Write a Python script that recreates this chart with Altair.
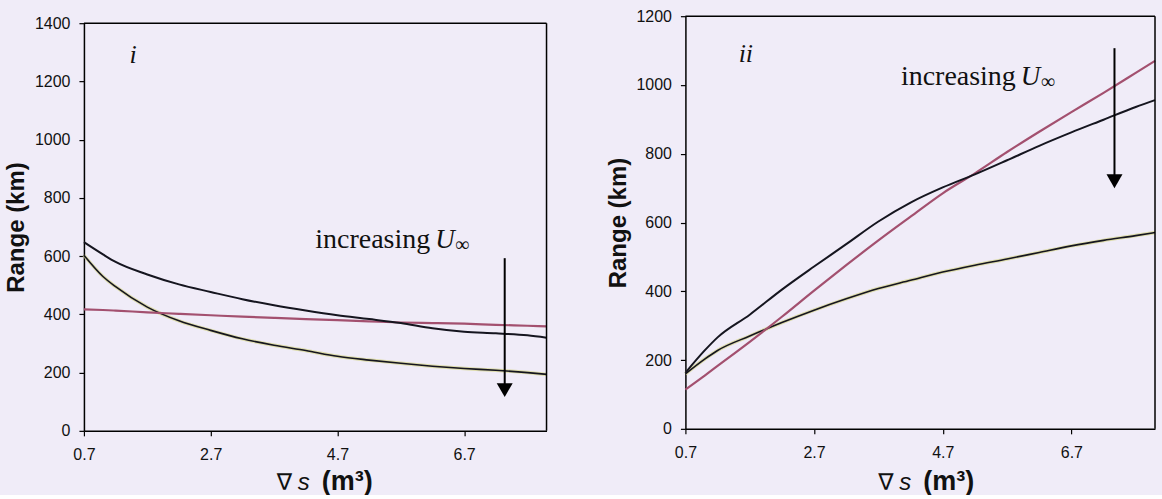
import altair as alt
import pandas as pd

# ---- data ----
x_vals = [0.7, 1.0, 1.2, 1.7, 2.2, 2.7, 3.2, 3.7, 4.2, 4.7, 5.2, 5.7, 6.2, 6.7, 7.2, 7.7, 8.0]

i_upper = [648, 606, 580, 537, 503, 477, 452, 431, 413, 397, 384, 370, 352, 340, 335, 328, 320]
i_lower = [603, 530, 495, 425, 378, 345, 316, 294, 276, 256, 243, 232, 222, 214, 208, 200, 194]
i_pink = [417, 415, 413, 407, 402, 397, 392, 388, 384, 380, 376, 372, 370, 368, 364, 361, 359]

ii_upper = [163, 228, 266, 332, 405, 472, 537, 603, 658, 702, 740, 781, 823, 862, 899, 936, 956]
ii_lower = [160, 203, 228, 270, 309, 345, 378, 408, 432, 456, 476, 494, 513, 532, 548, 562, 571]
ii_pink = [114, 155, 183, 253, 326, 402, 476, 548, 617, 685, 743, 805, 864, 921, 977, 1035, 1070]

x_ticks = [0.7, 2.7, 4.7, 6.7]
x_domain = [0.7, 8.0]

# annotation anchors (data units)
i_arrow = {"x": 7.34, "top": 593, "head": 140}
ii_arrow = {"x": 7.37, "top": 1107, "head": 720}
i_text = {"x": 4.35, "y": 627}
ii_text = {"x": 4.05, "y": 1000}
i_label = {"x": 1.475, "y": 1265, "t": "i"}
ii_label = {"x": 1.64, "y": 1066, "t": "ii"}

BLACK = "#15151f"
PINK = "#a3506f"
GLOW = "#d6d68c"


def make_panel(upper, lower, pink, ymax, width, height, top_px, arrow, txt, lab):
    n = len(x_vals)
    df = pd.DataFrame({
        "x": x_vals * 3,
        "y": upper + lower + pink,
        "s": ["upper"] * n + ["lower"] * n + ["pink"] * n,
    })
    xs = alt.Scale(domain=x_domain, nice=False, zero=False)
    ys = alt.Scale(domain=[0, ymax], nice=False, range=[height, top_px])
    X = alt.X("x:Q", scale=xs,
              axis=alt.Axis(values=x_ticks, format=".1f", title=None, labelFlush=False,
                            labelPadding=11, tickSize=5))
    Y = alt.Y("y:Q", scale=ys,
              axis=alt.Axis(values=list(range(0, ymax + 1, 200)), format="d",
                            title="Range (km)", titlePadding=5, labelPadding=9, tickSize=5,
                            minExtent=50, maxExtent=50))
    Xp = alt.X("x:Q", scale=xs)
    Yp = alt.Y("y:Q", scale=ys)
    base = alt.Chart(df)

    glow = base.transform_filter(alt.datum.s == "lower").mark_line(
        color=GLOW, strokeWidth=3.5, opacity=0.7, interpolate="monotone").encode(x=X, y=Y)
    lower_l = base.transform_filter(alt.datum.s == "lower").mark_line(
        color=BLACK, strokeWidth=1.6, interpolate="monotone").encode(x=Xp, y=Yp)
    pink_l = base.transform_filter(alt.datum.s == "pink").mark_line(
        color=PINK, strokeWidth=2.2, interpolate="monotone").encode(x=Xp, y=Yp)
    upper_l = base.transform_filter(alt.datum.s == "upper").mark_line(
        color=BLACK, strokeWidth=2, interpolate="monotone").encode(x=Xp, y=Yp)

    # frame: top and right borders
    fdf = pd.DataFrame({"k": [0]})
    top_rule = alt.Chart(fdf).mark_rule(color="black", strokeWidth=1.5).encode(
        x=alt.value(0), x2=alt.value(width), y=alt.value(top_px))
    right_rule = alt.Chart(fdf).mark_rule(color="black", strokeWidth=1.5).encode(
        x=alt.value(width), y=alt.value(top_px), y2=alt.value(height))

    adf = pd.DataFrame({"x": [arrow["x"]], "top": [arrow["top"]], "head": [arrow["head"]]})
    rule = alt.Chart(adf).mark_rule(color="black", strokeWidth=2).encode(
        x=alt.X("x:Q", scale=xs), y=alt.Y("top:Q", scale=ys), y2="head:Q")
    head = alt.Chart(adf).mark_point(shape="triangle-down", filled=True, size=256,
                                     color="black", opacity=1).encode(
        x=alt.X("x:Q", scale=xs), y=alt.Y("head:Q", scale=ys))

    tdf = pd.DataFrame({"x": [txt["x"]], "y": [txt["y"]]})
    t1 = alt.Chart(tdf).mark_text(text="increasing", align="left", baseline="alphabetic",
                                  font="Liberation Serif", fontSize=28, color="#111").encode(
        x=alt.X("x:Q", scale=xs), y=alt.Y("y:Q", scale=ys))
    t2 = alt.Chart(tdf).mark_text(text="U", align="left", baseline="alphabetic", dx=120,
                                  font="Liberation Serif", fontStyle="italic", fontSize=27,
                                  color="#111").encode(
        x=alt.X("x:Q", scale=xs), y=alt.Y("y:Q", scale=ys))
    t3 = alt.Chart(tdf).mark_text(text="\u221e", align="left", baseline="alphabetic", dx=140, dy=3,
                                  font="Liberation Serif", fontSize=20, color="#111").encode(
        x=alt.X("x:Q", scale=xs), y=alt.Y("y:Q", scale=ys))

    ldf = pd.DataFrame({"x": [lab["x"]], "y": [lab["y"]], "t": [lab["t"]]})
    lab_t = alt.Chart(ldf).mark_text(align="center", baseline="alphabetic",
                                     font="Liberation Serif", fontStyle="italic",
                                     fontSize=26, color="#111").encode(
        x=alt.X("x:Q", scale=xs), y=alt.Y("y:Q", scale=ys), text="t:N")

    # x-axis title pieces: italic nabla-s and bold (m^3)
    ty = 474
    xt1 = alt.Chart(fdf).mark_text(text="\u2207", align="left", baseline="alphabetic",
                                   font="DejaVu Sans", fontStyle="italic", fontSize=23,
                                   color="#111").encode(x=alt.value(193), y=alt.value(ty))
    xt2 = alt.Chart(fdf).mark_text(text="s", align="left", baseline="alphabetic",
                                   font="Liberation Sans", fontStyle="italic", fontSize=24,
                                   color="#111").encode(x=alt.value(214), y=alt.value(ty))
    xt3 = alt.Chart(fdf).mark_text(text="(m\u00b3)", align="left", baseline="alphabetic",
                                   font="Liberation Sans", fontWeight="bold", fontSize=27,
                                   color="#111").encode(x=alt.value(238), y=alt.value(ty))

    return alt.layer(glow, lower_l, pink_l, upper_l, top_rule, right_rule, rule, head,
                     t1, t2, t3, lab_t, xt1, xt2, xt3).properties(width=width, height=height)


left = make_panel(i_upper, i_lower, i_pink, 1400, 463, 415, 7, i_arrow, i_text, i_label)
right = make_panel(ii_upper, ii_lower, ii_pink, 1200, 470, 413, 0, ii_arrow, ii_text, ii_label)

chart = alt.hconcat(left, right, spacing=53).properties(
    background="#f0ecf8",
    padding={"left": 5, "top": 8, "right": 0, "bottom": 0},
).configure_view(
    stroke=None, fill=None
).configure_axis(
    grid=False,
    domainColor="black", domainWidth=1.5,
    tickColor="black", tickWidth=1.2,
    labelFont="Liberation Sans", labelFontSize=16, labelColor="#111",
    titleFont="Liberation Sans", titleFontSize=24, titleFontWeight="bold", titleColor="#111",
)

chart.save("out.html", embed_options={"renderer": "svg", "actions": False})
